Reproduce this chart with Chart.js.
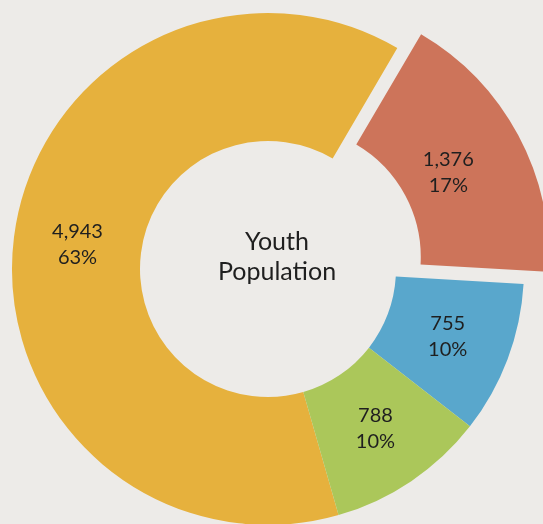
<!DOCTYPE html>
<html><head><meta charset="utf-8">
<script src="https://cdn.jsdelivr.net/npm/chart.js@4"></script>
<style>
html,body{margin:0;padding:0;background:#EDEBE8;overflow:hidden;}
canvas{display:block;}
</style></head><body>
<canvas id="c" width="543" height="524"></canvas>
<script>
const categories = ['Segment 1', 'Segment 2', 'Segment 3', 'Segment 4'];
const values = [4943, 1376, 755, 788];
const percentLabels = ['63%', '17%', '10%', '10%'];
const sliceColors = ['#E6B13D', '#CD745A', '#59A7CC', '#ABC75A'];
const explode = [0, 100, 0, 0];
const centerLines = ['Youth', 'Population'];

const labelPlugin = {
  id: 'sliceLabels',
  afterDatasetsDraw(chart) {
    const ctx = chart.ctx;
    const meta = chart.getDatasetMeta(0);
    ctx.save();
    ctx.fillStyle = '#1F1F1F';
    ctx.textAlign = 'center';
    ctx.textBaseline = 'middle';
    ctx.font = '20px Lato';
    meta.data.forEach((arc, i) => {
      const p = arc.getProps(['x', 'y', 'startAngle', 'endAngle', 'innerRadius', 'outerRadius']);
      const mid = (p.startAngle + p.endAngle) / 2;
      const shift = (arc.options.offset || 0) / 4;
      const r = (p.innerRadius + p.outerRadius) / 2 + shift / 2;
      const x = p.x + Math.cos(mid) * r;
      const y = p.y + Math.sin(mid) * r;
      ctx.fillText(values[i].toLocaleString('en-US'), x, y - 13);
      ctx.fillText(percentLabels[i], x, y + 13);
    });
    const c = meta.data[0];
    ctx.font = '25px Lato';
    ctx.textBaseline = 'alphabetic';
    ctx.fillText(centerLines[0], c.x + 9, c.y - 19);
    ctx.fillText(centerLines[1], c.x + 9, c.y + 11);
    ctx.restore();
  }
};

new Chart(document.getElementById('c'), {
  type: 'doughnut',
  data: {
    labels: categories,
    datasets: [{
      data: values,
      backgroundColor: sliceColors,
      borderWidth: 0,
      offset: explode,
      hoverOffset: 0
    }]
  },
  options: {
    responsive: false,
    devicePixelRatio: 1,
    animation: false,
    rotation: 164,
    cutout: '50%',
    radius: 256,
    layout: { padding: { left: 0, right: 7, top: 14, bottom: 0 } },
    plugins: { legend: { display: false }, tooltip: { enabled: false } },
    events: []
  },
  plugins: [labelPlugin]
});
</script>
</body></html>
